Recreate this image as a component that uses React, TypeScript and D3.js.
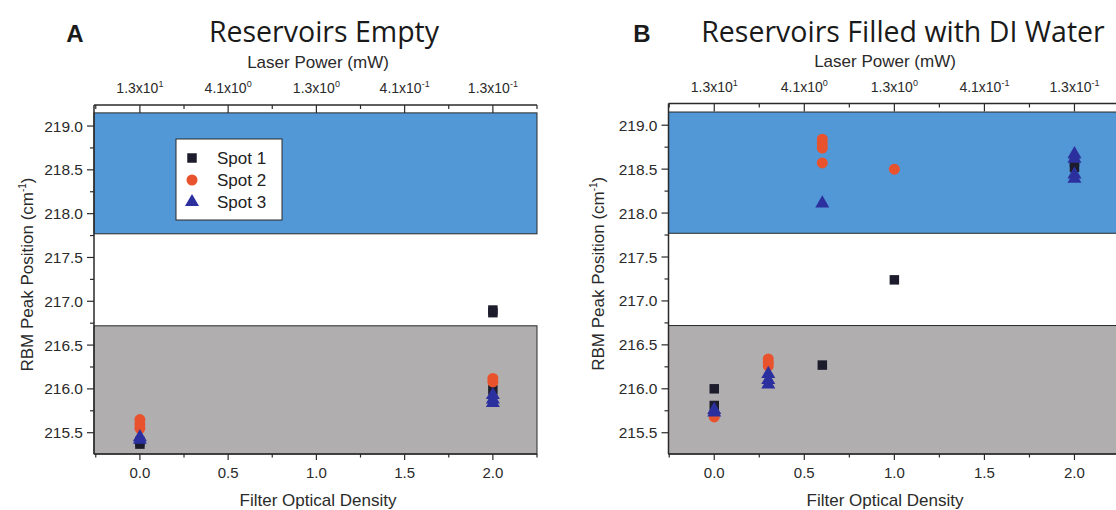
import React from "react";
import * as d3 from "d3";

// ---------- data ----------
const odTicks = [0, 0.5, 1.0, 1.5, 2.0];
const odMinorTicks = [-0.25, 0.25, 0.75, 1.25, 1.75, 2.25];
const powerMantissa = ["1.3", "4.1", "1.3", "4.1", "1.3"];
const powerExponent = ["1", "0", "0", "-1", "-1"];
const yTicks = [215.5, 216.0, 216.5, 217.0, 217.5, 218.0, 218.5, 219.0];
const yMinorTicks = [215.75, 216.25, 216.75, 217.25, 217.75, 218.25, 218.75];
const seriesNames = ["Spot 1", "Spot 2", "Spot 3"];

// shaded bands (RBM position ranges)
const blueBand = [217.77, 219.15];
const greyBandTop = 216.72;

// Panel A: reservoirs empty
const emptySpot1X = [0, 0, 2, 2, 2];
const emptySpot1Y = [215.37, 215.4, 216.87, 216.9, 215.99];
const emptySpot2X = [0, 0, 0, 2, 2];
const emptySpot2Y = [215.55, 215.6, 215.65, 216.08, 216.12];
const emptySpot3X = [0, 0, 2, 2, 2];
const emptySpot3Y = [215.42, 215.45, 215.84, 215.88, 215.93];

// Panel B: reservoirs filled with DI water
const waterSpot1X = [0, 0, 0.6, 1.0, 2, 2];
const waterSpot1Y = [216.0, 215.81, 216.27, 217.24, 218.52, 218.58];
const waterSpot2X = [0, 0, 0.3, 0.3, 0.3, 0.6, 0.6, 0.6, 0.6, 1.0];
const waterSpot2Y = [215.68, 215.71, 216.34, 216.3, 216.26, 218.84, 218.79, 218.74, 218.57, 218.5];
const waterSpot3X = [0, 0, 0.3, 0.3, 0.3, 0.6, 2, 2, 2, 2];
const waterSpot3Y = [215.73, 215.76, 216.17, 216.1, 216.05, 218.11, 218.67, 218.62, 218.44, 218.39];

// ---------- style ----------
const COLORS = ["#1c1c2c", "#e8532d", "#2c309e"];
const SYMBOLS = [d3.symbolSquare, d3.symbolCircle, d3.symbolTriangle];
const SYMBOL_SIZES = [90, 95, 85];
const BLUE = "#5297d6";
const GREY = "#b1aeb0";
const AXIS = "#2a2a2a";
const TEXT = "#2a2a2a";
const SANS = "Arial, 'Liberation Sans', sans-serif";
const TITLE_FONT = "'Open Sans', 'Lato', sans-serif";

type Panel = {
  letter: string;
  title: string;
  letterX: number;
  titleX: number;
  x0: number;
  x1: number;
  y0: number;
  y1: number;
  xDomain: [number, number];
  yDomain: [number, number];
  series: { xs: number[]; ys: number[] }[];
  legend: boolean;
  yLabelX: number;
  labelCx: number;
};

const panels: Panel[] = [
  {
    letter: "A",
    title: "Reservoirs Empty",
    letterX: 75,
    titleX: 324,
    x0: 94,
    x1: 537,
    y0: 105,
    y1: 454,
    xDomain: [-0.26, 2.25],
    yDomain: [215.257, 219.24],
    series: [
      { xs: emptySpot1X, ys: emptySpot1Y },
      { xs: emptySpot2X, ys: emptySpot2Y },
      { xs: emptySpot3X, ys: emptySpot3Y },
    ],
    legend: true,
    yLabelX: 27,
    labelCx: 318,
  },
  {
    letter: "B",
    title: "Reservoirs Filled with DI Water",
    letterX: 642,
    titleX: 903,
    x0: 668.5,
    x1: 1119.5,
    y0: 103.5,
    y1: 454,
    xDomain: [-0.254, 2.25],
    yDomain: [215.258, 219.247],
    series: [
      { xs: waterSpot1X, ys: waterSpot1Y },
      { xs: waterSpot2X, ys: waterSpot2Y },
      { xs: waterSpot3X, ys: waterSpot3Y },
    ],
    legend: false,
    yLabelX: 598,
    labelCx: 885,
  },
];

function PanelView({ p }: { p: Panel }) {
  const x = d3.scaleLinear().domain(p.xDomain).range([p.x0, p.x1]);
  const y = d3.scaleLinear().domain(p.yDomain).range([p.y1, p.y0]);
  const yMid = (p.y0 + p.y1) / 2;

  return (
    <g>
      {/* titles */}
      <text x={p.letterX} y={42} textAnchor="middle" fontFamily={SANS} fontWeight="bold" fontSize={24} fill="#1a1a1a">
        {p.letter}
      </text>
      <text x={p.titleX} y={42} textAnchor="middle" fontFamily={TITLE_FONT} fontSize={28.5} fill="#1a1a1a">
        {p.title}
      </text>

      {/* bands */}
      <rect
        x={x(p.xDomain[0])}
        y={y(blueBand[1])}
        width={x(p.xDomain[1]) - x(p.xDomain[0])}
        height={y(blueBand[0]) - y(blueBand[1])}
        fill={BLUE}
        stroke={AXIS}
        strokeWidth={1}
      />
      <rect
        x={x(p.xDomain[0])}
        y={y(greyBandTop)}
        width={x(p.xDomain[1]) - x(p.xDomain[0])}
        height={y(p.yDomain[0]) - y(greyBandTop)}
        fill={GREY}
        stroke={AXIS}
        strokeWidth={1}
      />

      {/* axes lines */}
      <line x1={p.x0} x2={p.x1} y1={p.y1} y2={p.y1} stroke={AXIS} strokeWidth={1.5} />
      <line x1={p.x0} x2={p.x1} y1={p.y0} y2={p.y0} stroke={AXIS} strokeWidth={1.5} />
      <line x1={p.x0} x2={p.x0} y1={p.y0} y2={p.y1} stroke={AXIS} strokeWidth={1.5} />

      {/* bottom / top ticks */}
      {odTicks.map((t, i) => (
        <g key={"bt" + i}>
          <line x1={x(t)} x2={x(t)} y1={p.y1} y2={p.y1 + 6} stroke={AXIS} strokeWidth={1.2} />
          <text x={x(t)} y={p.y1 + 24} textAnchor="middle" fontFamily={SANS} fontSize={15} fill={TEXT}>
            {t.toFixed(1)}
          </text>
          <line x1={x(t)} x2={x(t)} y1={p.y0} y2={p.y0 + 8} stroke={AXIS} strokeWidth={1.2} />
          <text x={x(t)} y={p.y0 - 12} textAnchor="middle" fontFamily={SANS} fontSize={14} fill={TEXT}>
            {powerMantissa[i] + "x10"}
            <tspan dy={-6} fontSize={9}>
              {powerExponent[i]}
            </tspan>
          </text>
        </g>
      ))}
      {odMinorTicks.map((t, i) => (
        <g key={"mt" + i}>
          <line x1={x(t)} x2={x(t)} y1={p.y1} y2={p.y1 + 3.5} stroke={AXIS} strokeWidth={1.2} />
          <line x1={x(t)} x2={x(t)} y1={p.y0} y2={p.y0 + 4} stroke={AXIS} strokeWidth={1.2} />
        </g>
      ))}

      {/* left ticks */}
      {yTicks.map((t, i) => (
        <g key={"yt" + i}>
          <line x1={p.x0 - 7} x2={p.x0} y1={y(t)} y2={y(t)} stroke={AXIS} strokeWidth={1.2} />
          <text x={p.x0 - 11} y={y(t) + 5.5} textAnchor="end" fontFamily={SANS} fontSize={15.5} fill={TEXT}>
            {t.toFixed(1)}
          </text>
        </g>
      ))}
      {yMinorTicks.map((t, i) => (
        <line key={"ym" + i} x1={p.x0 - 4} x2={p.x0} y1={y(t)} y2={y(t)} stroke={AXIS} strokeWidth={1.2} />
      ))}

      {/* axis titles */}
      <text x={p.labelCx} y={p.y0 - 37} textAnchor="middle" fontFamily={SANS} fontSize={17} fill={TEXT}>
        Laser Power (mW)
      </text>
      <text x={p.labelCx} y={506} textAnchor="middle" fontFamily={SANS} fontSize={17} fill={TEXT}>
        Filter Optical Density
      </text>
      <text
        transform={`translate(${p.yLabelX + 6},${yMid - 5}) rotate(-90)`}
        textAnchor="middle"
        fontFamily={SANS}
        fontSize={17}
        fill={TEXT}
      >
        RBM Peak Position (cm
        <tspan dy={-7} fontSize={10}>
          -1
        </tspan>
        <tspan dy={7}>)</tspan>
      </text>

      {/* points */}
      {p.series.map((s, si) => {
        const path = d3.symbol().type(SYMBOLS[si]).size(SYMBOL_SIZES[si])();
        return (
          <g key={"s" + si}>
            {s.xs.map((xv, k) => (
              <path
                key={k}
                d={path || ""}
                transform={`translate(${x(xv)},${y(s.ys[k])})`}
                fill={COLORS[si]}
              />
            ))}
          </g>
        );
      })}

      {/* legend */}
      {p.legend && (
        <g>
          <rect x={176} y={139} width={106} height={81} fill="#ffffff" stroke={AXIS} strokeWidth={1} />
          {seriesNames.map((name, i) => {
            const path = d3.symbol().type(SYMBOLS[i]).size(SYMBOL_SIZES[i])();
            const ly = 158 + i * 22;
            return (
              <g key={"lg" + i}>
                <path d={path || ""} transform={`translate(192,${ly})`} fill={COLORS[i]} />
                <text x={217} y={ly + 6} fontFamily={SANS} fontSize={17} fill="#222">
                  {name}
                </text>
              </g>
            );
          })}
        </g>
      )}
    </g>
  );
}

export default function App() {
  return (
    <svg
      width={1116}
      height={510}
      style={{ position: "absolute", left: 0, top: 0, background: "#ffffff" }}
    >
      <rect x={0} y={0} width={1116} height={510} fill="#ffffff" />
      {panels.map((p, i) => (
        <PanelView key={i} p={p} />
      ))}
    </svg>
  );
}
